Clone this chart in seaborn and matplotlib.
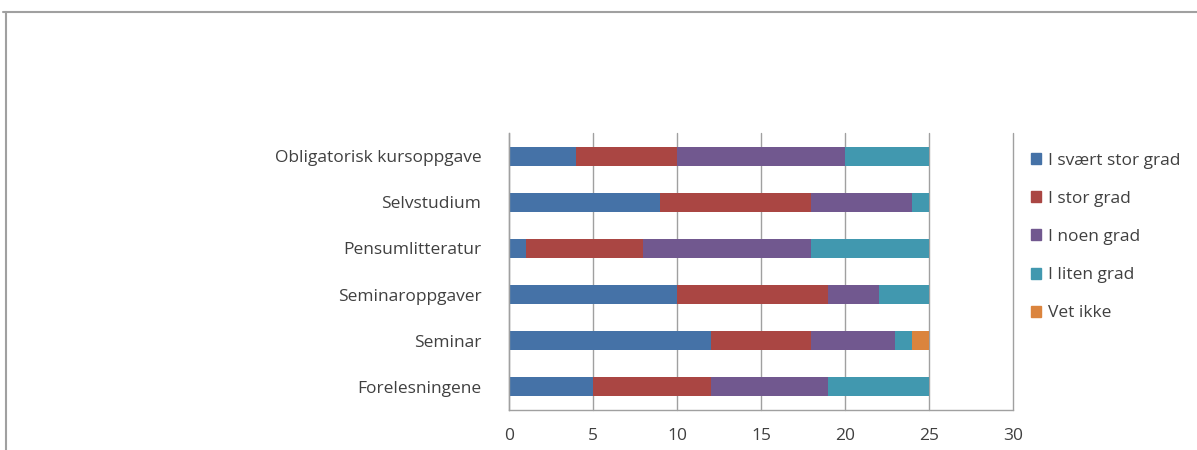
import matplotlib
matplotlib.use("Agg")
import matplotlib.pyplot as plt
import matplotlib.lines as mlines
import matplotlib.patches as mpatches
import numpy as np
import pandas as pd
import seaborn as sns

# data
categories = ["Obligatorisk kursoppgave", "Selvstudium", "Pensumlitteratur",
              "Seminaroppgaver", "Seminar", "Forelesningene"]
series = ["I svært stor grad", "I stor grad", "I noen grad", "I liten grad", "Vet ikke"]
svaert_stor = [4, 9, 1, 10, 12, 5]
stor = [6, 9, 7, 9, 6, 7]
noen = [10, 6, 10, 3, 5, 7]
liten = [5, 1, 7, 3, 1, 6]
vet_ikke = [0, 0, 0, 0, 1, 0]
colors = ["#4572A7", "#AA4643", "#71588F", "#4198AF", "#DB843D"]

df = pd.DataFrame({"kategori": categories, series[0]: svaert_stor, series[1]: stor,
                   series[2]: noen, series[3]: liten, series[4]: vet_ikke})
cum = df[series].cumsum(axis=1)

sns.set_style("white")
plt.rcParams["font.family"] = ["Open Sans", "DejaVu Sans"]
grey = "#a0a0a0"
text_col = "#404040"
fs = 12.5

fig = plt.figure(figsize=(11.97, 4.5), dpi=100)
ax = fig.add_axes([509 / 1197, 40 / 450, 504 / 1197, 277 / 450])

# stacked bars: draw cumulative totals from the outermost layer inwards
for name, col in reversed(list(zip(series, colors))):
    sns.barplot(x=cum[name], y=df["kategori"], color=col, width=0.41,
                orient="h", ax=ax, linewidth=0, saturation=1)

ax.set_xlim(0, 30)
ax.set_ylim(5.5, -0.5)
ax.set_xticks(range(0, 31, 5))
ax.xaxis.grid(True, color=grey, linewidth=1)
for gl in ax.get_xgridlines():
    gl.set_clip_on(False)
ax.set_axisbelow(True)
ax.set_xlabel("")
ax.set_ylabel("")
for s in ["top", "right"]:
    ax.spines[s].set_visible(False)
for s in ["left", "bottom"]:
    ax.spines[s].set_color(grey)
    ax.spines[s].set_linewidth(1)

ax.set_yticks(np.arange(-0.5, 6, 1), minor=True)
ax.tick_params(axis="y", which="major", length=0, pad=20, labelsize=fs, labelcolor=text_col)
ax.tick_params(axis="y", which="minor", length=5, color=grey, direction="out")
ax.tick_params(axis="x", length=5, color=grey, direction="out", pad=8,
               labelsize=fs, labelcolor=text_col)

handles = [mpatches.Patch(color=c, label=s) for s, c in zip(series, colors)]
fig.legend(handles=handles, loc="upper left", bbox_to_anchor=(1031 / 1197, 1 - 153 / 450),
           frameon=False, fontsize=fs, labelcolor=text_col, borderpad=0,
           borderaxespad=0, handlelength=0.6, handleheight=0.6,
           handletextpad=0.4, labelspacing=1.27)

# outer chart frame
fig.add_artist(mlines.Line2D([3 / 1197, 1], [1 - 12 / 450, 1 - 12 / 450],
                             transform=fig.transFigure, color=grey, linewidth=1.5))
fig.add_artist(mlines.Line2D([6 / 1197, 6 / 1197], [0, 1 - 12 / 450],
                             transform=fig.transFigure, color=grey, linewidth=1.5))

fig.savefig("out.png", dpi=100)
